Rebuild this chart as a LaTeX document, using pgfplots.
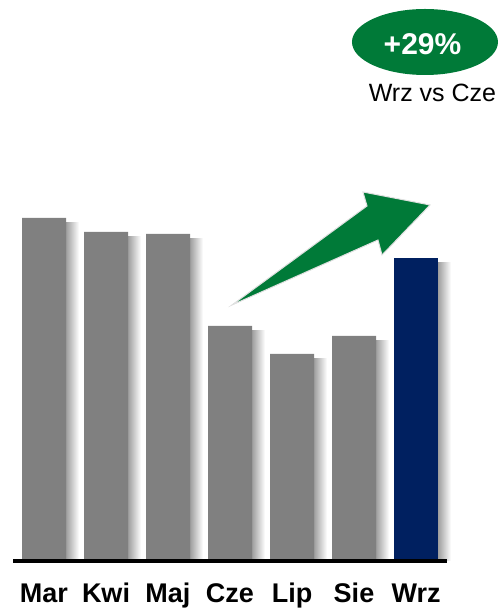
\documentclass[border=0pt]{standalone}
\usepackage{fontspec}
\setmainfont{Liberation Sans}
\usepackage{pgfplots}
\pgfplotsset{compat=1.18}
\definecolor{barg}{RGB}{128,128,128}
\definecolor{navy}{RGB}{0,32,96}
\definecolor{grn}{RGB}{0,122,56}
\pgfplotsset{shadowbar/.style={ybar, bar width=13pt, bar shift=28.5pt, draw=none, left color=black!38, right color=white}}
\begin{document}
\begin{tikzpicture}[x=1pt,y=1pt]
\useasboundingbox (0,0) rectangle (503,610);
\begin{axis}[
  at={(13pt,50pt)}, anchor=south west,
  scale only axis, width=434pt, height=560pt,
  xmin=-0.5, xmax=6.5, ymin=0, ymax=560,
  clip=false,
  axis line style={draw=none},
  major tick length=0pt,
  ytick=\empty,
  xtick={0,...,6},
  xticklabels={Mar,Kwi,Maj,Cze,Lip,Sie,Wrz},
  xticklabel style={font=\fontsize{27}{30}\selectfont\bfseries, anchor=base, yshift=-42.5pt, inner sep=0pt},
]
% shadows (one plot per bar so each gets its own gradient)
\addplot[shadowbar] coordinates {(0,337)};
\addplot[shadowbar] coordinates {(1,323)};
\addplot[shadowbar] coordinates {(2,321)};
\addplot[shadowbar] coordinates {(3,229)};
\addplot[shadowbar] coordinates {(4,201)};
\addplot[shadowbar] coordinates {(5,219)};
\addplot[shadowbar] coordinates {(6,297)};
% bars
\addplot[ybar, bar width=44pt, bar shift=0pt, fill=barg, draw=none]
  coordinates {(0,342) (1,328) (2,326) (3,234) (4,206) (5,224)};
\addplot[ybar, bar width=44pt, bar shift=0pt, fill=navy, draw=none]
  coordinates {(6,302)};
% baseline
\draw[line width=4pt] (axis cs:-0.5,-0.5) -- (axis cs:6.5,-0.5);
% arrow
\filldraw[fill=grn, draw=black!12, line width=1pt, line join=miter]
  (axis cs:3.032,255) -- (axis cs:5.210,354) -- (axis cs:5.145,368) -- (axis cs:6.226,355)
  -- (axis cs:5.452,305) -- (axis cs:5.387,320) -- cycle;
% badge
\fill[grn] (axis cs:6.145,518) ellipse [x radius=73pt, y radius=33pt];
\node[white, font=\fontsize{30}{32}\selectfont\bfseries] at (axis cs:6.105,516) {+29\%};
\node[anchor=base, font=\fontsize{25}{28}\selectfont] at (axis cs:6.266,458) {Wrz vs Cze};
\end{axis}
\end{tikzpicture}
\end{document}
